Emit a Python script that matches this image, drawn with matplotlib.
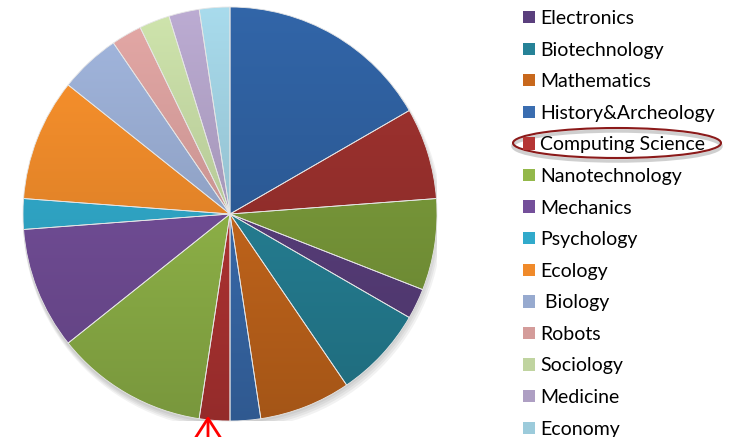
import numpy as np
import matplotlib
matplotlib.use('Agg')
import matplotlib.pyplot as plt
from matplotlib.patches import Patch, Ellipse, FancyArrowPatch
from matplotlib.colors import to_rgb

# slice sizes clockwise from 12 o'clock
sizes = [7, 3, 3, 1, 3, 3, 1, 1, 5, 4, 1, 4, 2, 1, 1, 1, 1]
colors = ['#2E5E9C', '#98302D', '#7A9A3A', '#5A3F7D', '#268297', '#C8681C',
          '#3A6DB0', '#B53534', '#93B84A', '#744F9A', '#31AACB', '#F08A2A',
          '#97AACF', '#D49C9A', '#C0D4A0', '#AE9FC3', '#9CCBDB']
# legend shows the slices from the 4th on
legend_labels = ['Electronics', 'Biotechnology', 'Mathematics', 'History&Archeology',
                 'Computing Science', 'Nanotechnology', 'Mechanics', 'Psychology',
                 'Ecology', ' Biology', 'Robots', 'Sociology', 'Medicine', 'Economy']

W, H = 729, 437
fig = plt.figure(figsize=(W / 100, H / 100), dpi=100)
cx, cy, r = 230, 214, 207
ax = fig.add_axes([(cx - r) / W, (H - cy - r) / H, 2 * r / W, 2 * r / H])

# soft shadow
for i in range(4):
    ax.add_patch(plt.Circle((0.004 * i, -0.012 - 0.006 * i), 1.0 + 0.004 * i,
                            color='black', alpha=0.05, lw=0, zorder=0))

wedges, _ = ax.pie(sizes, colors=colors, startangle=90, counterclock=False,
                   radius=1, wedgeprops=dict(lw=0.6, edgecolor='#e6e6e6'))

# vertical gradient per wedge, lighter on top
t = np.linspace(0, 1, 256)[:, None]
for w, c in zip(wedges, colors):
    c = np.array(to_rgb(c))
    top = np.clip(c * 1.08, 0, 1)
    bot = c * 0.82
    img = top[None, None, :] * (1 - t[:, :, None]) + bot[None, None, :] * t[:, :, None]
    im = ax.imshow(img, extent=(-1, 1, -1, 1), origin='upper', aspect='auto', zorder=1)
    im.set_clip_path(w)
    w.set_facecolor('none')
    w.set_zorder(2)

ax.set_xlim(-1.0, 1.0)
ax.set_ylim(-1.0, 1.0)
ax.axis('off')

handles = [Patch(facecolor=c, edgecolor='none') for c in colors[3:]]
leg = fig.legend(handles, legend_labels, loc='upper left',
                 bbox_to_anchor=(523 / W, 1 - 10 / H), frameon=False,
                 prop=dict(family='Lato', size=14), handlelength=0.6,
                 handleheight=0.6, handletextpad=0.3, labelspacing=0.75,
                 borderpad=0, borderaxespad=0)

# highlight around Computing Science
fig.patches.append(Ellipse((617 / W, 1 - 146 / H), 208 / W, 30 / H,
                           transform=fig.transFigure, fill=False,
                           edgecolor='#b0b0b0', lw=2.5, alpha=0.6))
fig.patches.append(Ellipse((617 / W, 1 - 143 / H), 208 / W, 30 / H,
                           transform=fig.transFigure, fill=False,
                           edgecolor='#8B1A1A', lw=1.5))

# red arrow under the Computing Science slice
fig.add_artist(FancyArrowPatch(
    (208 / W, -0.01), (208 / W, 1 - 413 / H), transform=fig.transFigure,
    arrowstyle='->,head_length=7,head_width=4.5', color='red', lw=2,
    mutation_scale=2))

fig.savefig('out.png', dpi=100)
